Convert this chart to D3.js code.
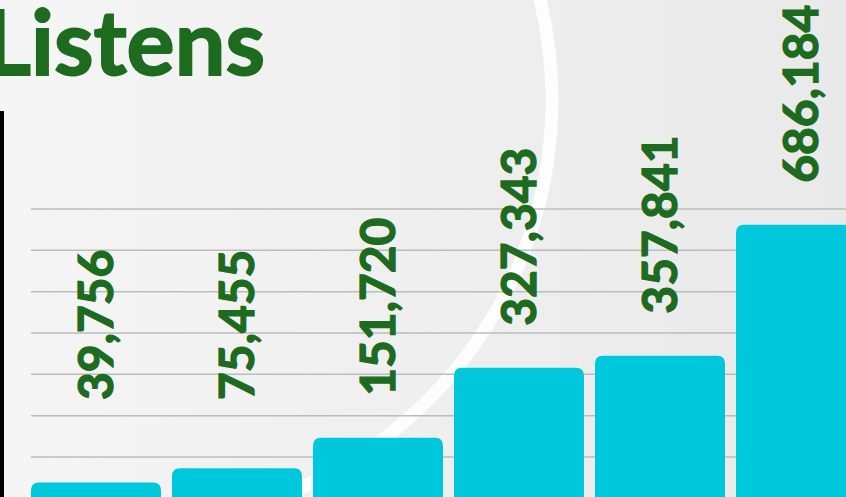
<!DOCTYPE html>
<html><head><meta charset="utf-8">
<script src="https://cdn.jsdelivr.net/npm/d3@7"></script>
<style>html,body{margin:0;padding:0;background:#f0f0f0;overflow:hidden}svg{display:block}</style>
</head><body><svg id="chart" width="846" height="497"></svg>
<script>
// ---- data ----
const title = "Listens";
const categories = ["P1", "P2", "P3", "P4", "P5", "P6"];
const listens = [39756, 75455, 151720, 327343, 357841, 686184];
const gridMax = 726000;
const gridCount = 7;

// ---- layout ----
const W = 846, H = 497;
const green = "#1d6b1f";
const cyan = "#00c8dc";
const font = "Lato, 'Open Sans', sans-serif";

const svg = d3.select("#chart");
const defs = svg.append("defs");
const bg = defs.append("linearGradient").attr("id", "bg")
  .attr("x1", "0").attr("x2", "1").attr("y1", "0").attr("y2", "0");
bg.append("stop").attr("offset", "0").attr("stop-color", "#f5f5f5");
bg.append("stop").attr("offset", "1").attr("stop-color", "#e9e9e9");
svg.append("rect").attr("width", W).attr("height", H).attr("fill", "url(#bg)");

// decorative arc
svg.append("circle").attr("cx", 127).attr("cy", 100).attr("r", 425)
  .attr("fill", "none").attr("stroke", "#ffffff").attr("stroke-width", 13).attr("opacity", 0.85);

const x = d3.scaleBand().domain(categories).range([31, 866]).paddingInner(11 / 141).paddingOuter(0);
const y = d3.scaleLinear().domain([0, gridMax]).range([498.3, 209]);

// gridlines
const gridVals = d3.range(1, gridCount + 1).map(i => i * gridMax / gridCount);
svg.append("g").selectAll("line").data(gridVals).join("line")
  .attr("x1", 31).attr("x2", W)
  .attr("y1", d => y(d)).attr("y2", d => y(d))
  .attr("stroke", "#bcbcbc").attr("stroke-width", 1.5);

// bars with rounded top corners
const r = 8, yb = H + 10;
function barPath(x0, y0, w) {
  return `M${x0},${yb}V${y0 + r}Q${x0},${y0} ${x0 + r},${y0}H${x0 + w - r}Q${x0 + w},${y0} ${x0 + w},${y0 + r}V${yb}Z`;
}
svg.append("g").selectAll("path").data(listens).join("path")
  .attr("d", (d, i) => barPath(x(categories[i]), y(d), x.bandwidth()))
  .attr("fill", cyan);

// value labels
svg.append("g").selectAll("text").data(listens).join("text")
  .attr("transform", (d, i) =>
    `translate(${x(categories[i]) + x.bandwidth() / 2 + 17},${Math.min(y(d) - 42, 400)}) rotate(-90)`)
  .attr("font-family", font).attr("font-weight", 700).attr("font-size", 48)
  .attr("fill", green).attr("stroke", green).attr("stroke-width", 1.3)
  .text(d => d3.format(",")(d));

// title
svg.append("text").attr("x", 265).attr("y", 75).attr("text-anchor", "end")
  .attr("font-family", font).attr("font-weight", 700).attr("font-size", 90)
  .attr("fill", green).attr("stroke", green).attr("stroke-width", 1.8).text(title);

// black left edge bar
svg.append("rect").attr("x", 0).attr("y", 111).attr("width", 4).attr("height", H).attr("fill", "#000");
</script></body></html>
